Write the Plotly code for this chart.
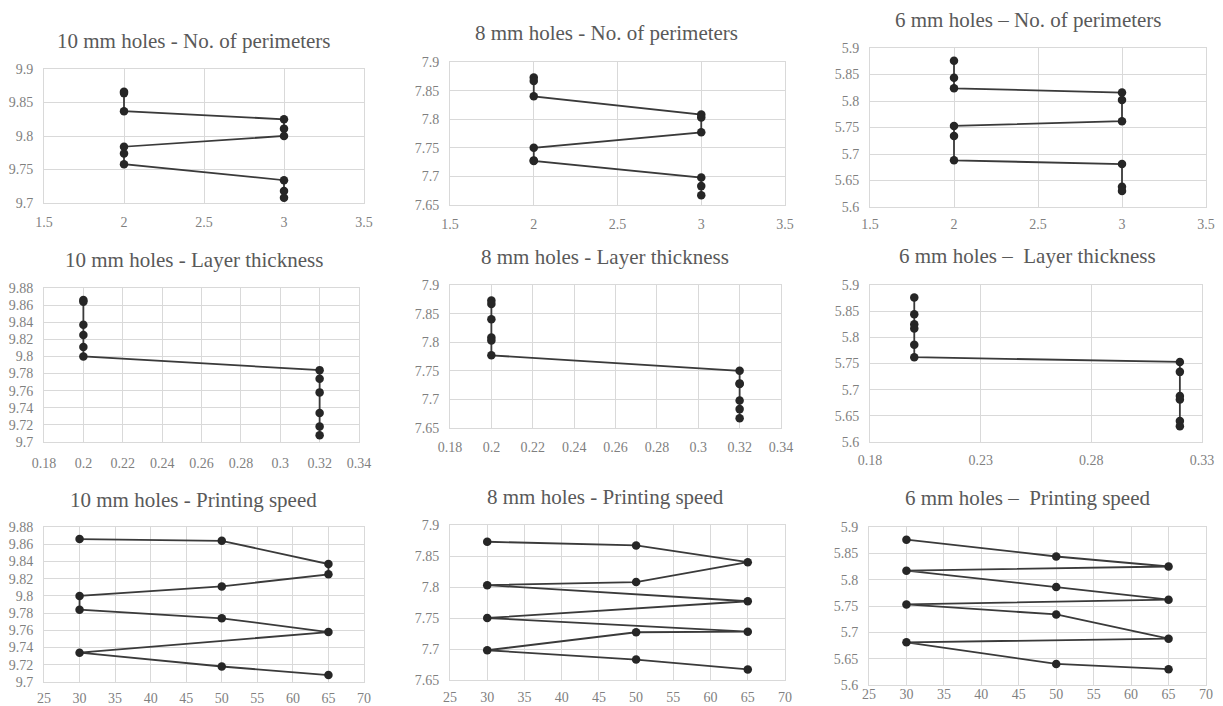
import plotly.graph_objects as go

# ---------------- data ----------------
# measured hole diameters, sorted descending (mm)
y10 = [9.866, 9.864, 9.837, 9.825, 9.811, 9.800, 9.784, 9.774, 9.758, 9.734, 9.718, 9.708]
y8 = [7.873, 7.867, 7.840, 7.808, 7.803, 7.777, 7.750, 7.728, 7.727, 7.698, 7.683, 7.667]
y6 = [5.876, 5.844, 5.825, 5.817, 5.786, 5.762, 5.753, 5.734, 5.688, 5.681, 5.640, 5.630]
y6_perim = [5.876, 5.844, 5.824, 5.816, 5.802, 5.762, 5.753, 5.734, 5.688, 5.681, 5.638, 5.630]

# process parameters for each measurement
perim10 = [2, 2, 2, 3, 3, 3, 2, 2, 2, 3, 3, 3]
perim8 = [2, 2, 2, 3, 3, 3, 2, 2, 2, 3, 3, 3]
perim6 = [2, 2, 2, 3, 3, 3, 2, 2, 2, 3, 3, 3]
layer10 = [0.2, 0.2, 0.2, 0.2, 0.2, 0.2, 0.32, 0.32, 0.32, 0.32, 0.32, 0.32]
layer8 = [0.2, 0.2, 0.2, 0.2, 0.2, 0.2, 0.32, 0.32, 0.32, 0.32, 0.32, 0.32]
layer6 = [0.2, 0.2, 0.2, 0.2, 0.2, 0.2, 0.32, 0.32, 0.32, 0.32, 0.32, 0.32]
speed10 = [30, 50, 65, 65, 50, 30, 30, 50, 65, 30, 50, 65]
speed8 = [30, 50, 65, 50, 30, 65, 30, 65, 50, 30, 50, 65]
speed6 = [30, 50, 65, 30, 50, 65, 30, 50, 65, 30, 50, 65]

titles = [
    "10 mm holes - No. of perimeters", "8 mm holes - No. of perimeters", "6 mm holes \u2013 No. of perimeters",
    "10 mm holes - Layer thickness", "8 mm holes - Layer thickness", "6 mm holes \u2013  Layer thickness",
    "10 mm holes - Printing speed", "8 mm holes - Printing speed", "6 mm holes \u2013  Printing speed",
]

# ---------------- layout helpers ----------------
W, H = 1223, 706
FONT = "Liberation Serif"

panels = [
    # x data, y data, x range, x dtick, y range, y dtick, plot box px (x0,x1,y0,y1), title center px, x label standoff
    (perim10, y10, [1.5, 3.5], 0.5, [9.7, 9.9], 0.05, (44, 364, 69, 203), (194, 41), 6),
    (perim8, y8, [1.5, 3.5], 0.5, [7.65, 7.9], 0.05, (450, 785, 62, 205), (606, 33), 6),
    (perim6, y6_perim, [1.5, 3.5], 0.5, [5.6, 5.9], 0.05, (870, 1206, 48, 207), (1028, 20), 4),
    (layer10, y10, [0.18, 0.34], 0.02, [9.7, 9.88], 0.02, (44, 359, 288, 442), (194, 260), 8),
    (layer8, y8, [0.18, 0.34], 0.02, [7.65, 7.9], 0.05, (450, 781, 285, 428), (605, 257), 6),
    (layer6, y6, [0.18, 0.33], 0.05, [5.6, 5.9], 0.05, (870, 1202, 285, 442), (1027, 256), 5),
    (speed10, y10, [25, 70], 5, [9.7, 9.88], 0.02, (44, 364, 527, 682), (193, 500), 3),
    (speed8, y8, [25, 70], 5, [7.65, 7.9], 0.05, (450, 785, 525, 680), (605, 497), 4),
    (speed6, y6, [25, 70], 5, [5.6, 5.9], 0.05, (869, 1206, 527, 685), (1027, 498), -4),
]

fig = go.Figure()
layout = dict(
    template="none",
    width=W, height=H,
    margin=dict(l=0, r=0, t=0, b=0, pad=0),
    paper_bgcolor="white", plot_bgcolor="white",
    showlegend=False,
    font=dict(family=FONT, color="#7f7f7f", size=14),
)
annotations = []

for i, (xs, ys, xr, xd, yr, yd, box, tc, xso) in enumerate(panels, start=1):
    sfx = "" if i == 1 else str(i)
    x0, x1, y0, y1 = box
    fig.add_trace(go.Scatter(
        x=xs, y=ys, mode="lines+markers",
        xaxis="x" + sfx, yaxis="y" + sfx,
        line=dict(color="#3a3a3a", width=1.8),
        marker=dict(color="#262626", size=8.5),
        hoverinfo="x+y",
    ))
    axis_common = dict(
        showgrid=True, gridcolor="#d9d9d9", gridwidth=1,
        zeroline=False, showline=True, mirror=True, linecolor="#d9d9d9", linewidth=1,
        ticks="", automargin=False,
        tickfont=dict(family=FONT, size=14, color="#7f7f7f"),
    )
    layout["xaxis" + sfx] = dict(
        axis_common, domain=[x0 / W, x1 / W], range=xr, tick0=xr[0], dtick=xd,
        anchor="y" + sfx, ticklabelstandoff=xso,
    )
    layout["yaxis" + sfx] = dict(
        axis_common, domain=[1 - y1 / H, 1 - y0 / H], range=yr, tick0=yr[0], dtick=yd,
        anchor="x" + sfx, ticklabelstandoff=7,
    )
    annotations.append(dict(
        text=titles[i - 1], x=tc[0] / W, y=1 - tc[1] / H, xref="paper", yref="paper",
        xanchor="center", yanchor="middle", showarrow=False,
        font=dict(family=FONT, size=21, color="#595959"),
    ))

layout["annotations"] = annotations
fig.update_layout(**layout)
fig.write_html("out.html", config={"displayModeBar": False},
               post_script="document.body.style.margin='0';")
